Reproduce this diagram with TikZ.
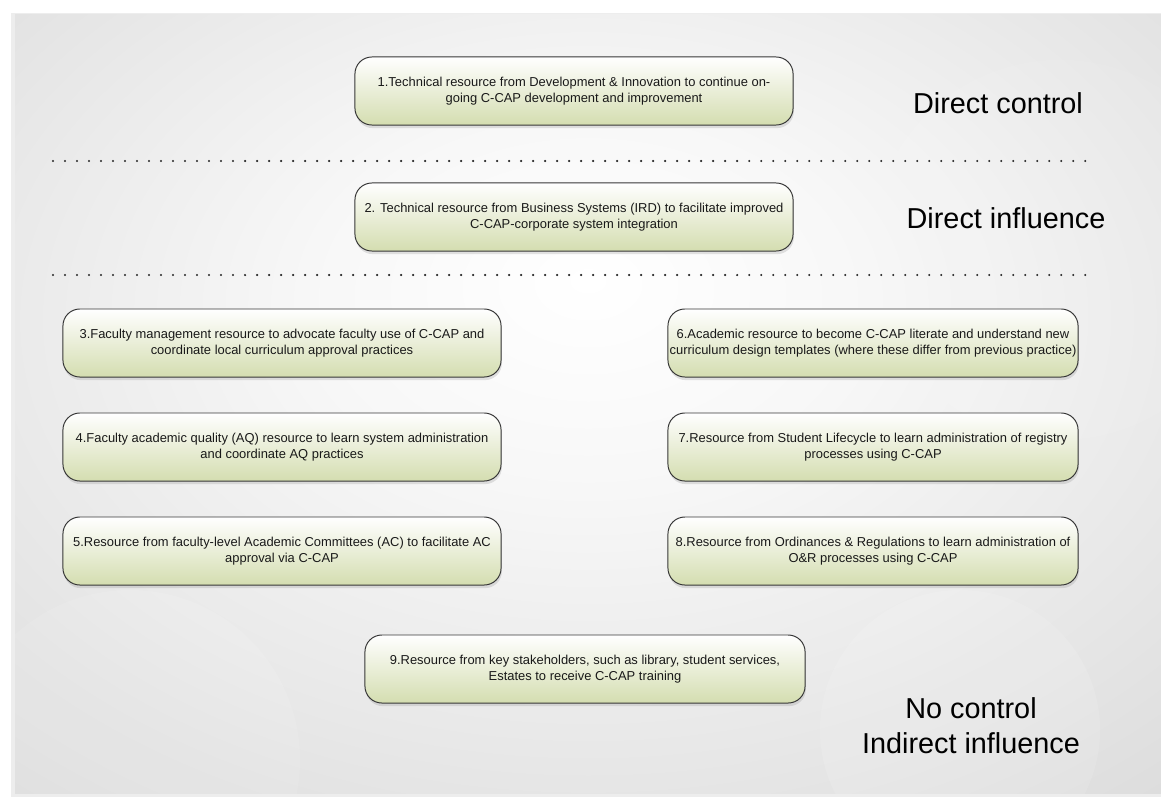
\documentclass[tikz,border=0pt]{standalone}
\usepackage{fontspec}
\setmainfont{Liberation Sans}
\usepackage{tikz}
\usetikzlibrary{shapes,shadows,positioning,calc}

\pgfdeclareradialshading{panelglow}{\pgfpoint{0bp}{8bp}}{color(0bp)=(white); color(12bp)=(white!97!black); color(45bp)=(black!16); color(75bp)=(black!20)}
\definecolor{boxgreen}{RGB}{212,221,176}
\definecolor{boxline}{RGB}{55,55,55}
\definecolor{inktext}{RGB}{25,25,25}

\begin{document}
\begin{tikzpicture}[x=0.025cm, y=-0.025cm]
    % Define styles
    \tikzset{
        resbox/.style={draw=boxline, line width=0.7pt, rectangle, rounded corners=12pt,
            minimum height=1.7cm, minimum width=10.95cm, align=center, text=inktext,
            top color=white, bottom color=boxgreen,
            drop shadow={opacity=0.22, shadow xshift=0.6pt, shadow yshift=-2.2pt},
            font=\fontsize{9.2}{11.4}\selectfont},
        widebox/.style={resbox, minimum width=10.25cm, inner xsep=1pt},
        levellabel/.style={align=center, text=black, font=\fontsize{20.5}{24.8}\selectfont},
        divider/.style={draw=black!85, line width=1.7pt, line cap=round, dash pattern=on 0pt off 0.3cm}
    }

    % Background panel
    \useasboundingbox (0,0) rectangle (1161,801);
    \fill[white] (0,0) rectangle (1161,801);
    \fill[black!7] (11,13) rectangle (1161,797);
    \shade[shading=panelglow] (15,15) rectangle (1161,793);
    \begin{scope}
        \clip (15,15) rectangle (1161,793);
        \fill[white, opacity=0.12] (960,730) circle (140);
        \fill[white, opacity=0.10] (130,760) circle (170);
        \fill[white, opacity=0.08] (1060,250) circle (190);
    \end{scope}

    % Place nodes
    \node[resbox] (res1) at (574,91) {1.Technical resource from Development \& Innovation to continue on-\\going C-CAP development and improvement};
    \node[resbox] (res2) at (574,217) {2. Technical resource from Business Systems (IRD) to facilitate improved\\C-CAP-corporate system integration};
    \node[resbox] (res3) at (282,343) {3.Faculty management resource to advocate faculty use of C-CAP and\\coordinate local curriculum approval practices};
    \node[resbox] (res4) at (282,447) {4.Faculty academic quality (AQ) resource to learn system administration\\and coordinate AQ practices};
    \node[resbox] (res5) at (282,551) {5.Resource from faculty-level Academic Committees (AC) to facilitate AC\\approval via C-CAP};
    \node[widebox] (res6) at (873,343) {6.Academic resource to become C-CAP literate and understand new\\curriculum design templates (where these differ from previous practice)};
    \node[widebox] (res7) at (873,447) {7.Resource from Student Lifecycle to learn administration of registry\\processes using C-CAP};
    \node[widebox] (res8) at (873,551) {8.Resource from Ordinances \& Regulations to learn administration of\\O\&R processes using C-CAP};
    \node[resbox, minimum width=11cm] (res9) at (585,669) {9.Resource from key stakeholders, such as library, student services,\\Estates to receive C-CAP training};

    % Level labels
    \node[levellabel] (control) at (998,103) {Direct control};
    \node[levellabel] (influence) at (1006,218) {Direct influence};
    \node[levellabel] (nocontrol) at (971,726) {No control\\Indirect influence};

    % Dotted dividers
    \coordinate (div1a) at (53,161);
    \coordinate (div1b) at (1095,161);
    \coordinate (div2a) at (53,275);
    \coordinate (div2b) at (1095,275);
    \draw[divider] (div1a) -- (div1b);
    \draw[divider] (div2a) -- (div2b);
\end{tikzpicture}
\end{document}
